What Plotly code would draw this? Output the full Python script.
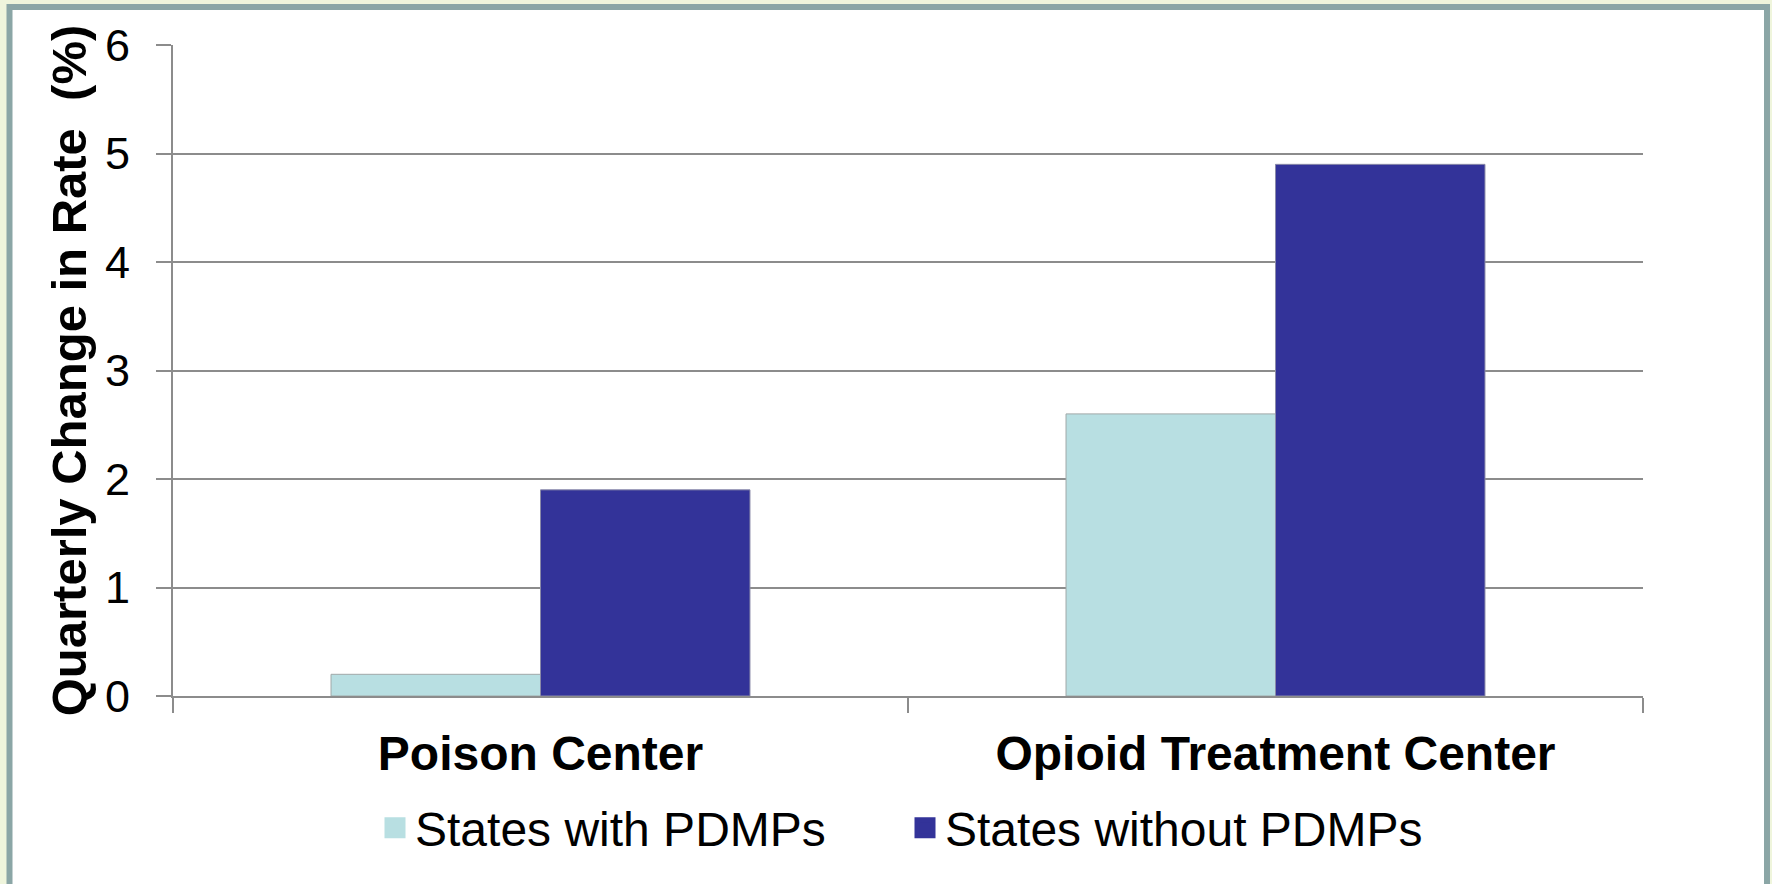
"""Quarterly change in rate, states with vs without PDMPs."""

import plotly.graph_objects as go

categories = ["Poison Center", "Opioid Treatment Center"]
with_pdmp = [0.2, 2.6]
without_pdmp = [1.9, 4.9]
series_names = ["States with PDMPs", "States without PDMPs"]
y_ticks = [0, 1, 2, 3, 4, 5, 6]

W, H = 1772, 884
L, R, T, B = 173, 129, 45, 188
PW, PH = W - L - R, H - T - B

FONT = "Liberation Sans, Arial, sans-serif"
LIGHT = "#b8dfe2"
DARK = "#333399"
GRID = "#8c8c8c"
BG = "#eff5dc"


def _px_x(px):
    return (px - L) / PW


def _px_y(py):
    return (H - B - py) / PH


fig = go.Figure()

fig.add_trace(
    go.Bar(
        x=categories,
        y=with_pdmp,
        name=series_names[0],
        marker=dict(color=LIGHT, line=dict(color="#a0a8a8", width=1)),
        showlegend=False,
    )
)
fig.add_trace(
    go.Bar(
        x=categories,
        y=without_pdmp,
        name=series_names[1],
        marker=dict(color=DARK, line=dict(color="#8a8aa8", width=1)),
        showlegend=False,
    )
)

# legend-only entries, so the swatches can be bigger than bar swatches
for name, color in zip(series_names, [LIGHT, DARK]):
    fig.add_trace(
        go.Scatter(
            x=[None],
            y=[None],
            mode="markers",
            name=name,
            marker=dict(symbol="square", size=16, color=color,
                        line=dict(color=color, width=5)),
        )
    )

# slide frame
fig.add_shape(
    type="rect",
    xref="paper",
    yref="paper",
    x0=_px_x(9.5),
    x1=_px_x(1767),
    y0=_px_y(7),
    y1=_px_y(950),
    line=dict(color="#8ba6a6", width=6),
    fillcolor="white",
    layer="below",
)

fig.update_layout(
    width=W,
    height=H,
    margin=dict(l=L, r=R, t=T, b=B),
    paper_bgcolor=BG,
    plot_bgcolor="white",
    barmode="group",
    bargap=0.43,
    bargroupgap=0,
    font=dict(family=FONT, color="black"),
    legend=dict(
        orientation="h",
        x=_px_x(375),
        xanchor="left",
        y=_px_y(828),
        yanchor="middle",
        font=dict(size=48, family=FONT),
        bgcolor="rgba(0,0,0,0)",
        itemsizing="trace",
        entrywidth=485,
        entrywidthmode="pixels",
    ),
    xaxis=dict(
        showline=True,
        linecolor=GRID,
        linewidth=2,
        ticks="outside",
        tickson="boundaries",
        ticklen=15,
        tickcolor=GRID,
        tickwidth=2,
        tickfont=dict(size=48, family=FONT),
        ticklabelstandoff=14,
        tickprefix="<b>",
        ticksuffix="</b>",
    ),
    yaxis=dict(
        range=[0, 6],
        tickvals=y_ticks,
        showline=True,
        linecolor=GRID,
        linewidth=2,
        showgrid=True,
        gridcolor=GRID,
        gridwidth=1.5,
        zeroline=False,
        ticks="outside",
        ticklen=15,
        tickcolor=GRID,
        tickwidth=2,
        tickfont=dict(size=45, family=FONT),
        ticklabelstandoff=17,
        title=dict(
            text="<b>Quarterly Change in Rate  (%)</b>",
            font=dict(size=49, family=FONT),
            standoff=3,
        ),
    ),
)

# drop the default body margin so the figure sits at the page corner
fig.write_html(
    "out.html",
    config={"displayModeBar": False},
    post_script="document.body.style.margin='0';"
    f"document.body.style.background='{BG}';",
)
